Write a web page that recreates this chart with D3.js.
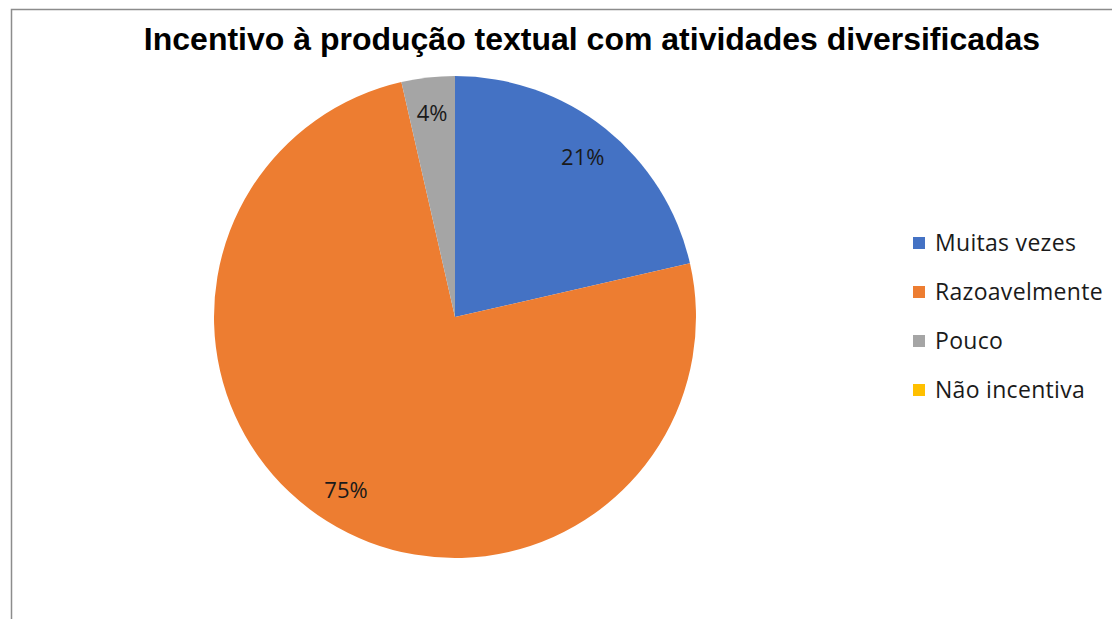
<!DOCTYPE html>
<html>
<head>
<meta charset="utf-8">
<script src="https://cdn.jsdelivr.net/npm/d3@7"></script>
<style>
  body { margin: 0; background: #fff; }
</style>
</head>
<body>
<div id="chart"></div>
<script>
const categories = ["Muitas vezes", "Razoavelmente", "Pouco", "Não incentiva"]
const values = [6, 21, 1, 0]
const colors = ["#4472C4", "#ED7D31", "#A5A5A5", "#FFC000"]
const title = "Incentivo à produção textual com atividades diversificadas"

const WIDTH = 1112, HEIGHT = 619
const CX = 455, CY = 317, R = 241

const svg = d3.select("#chart").append("svg")
    .attr("width", WIDTH)
    .attr("height", HEIGHT)

// chart frame (only top and left edges visible)
svg.append("rect")
    .attr("x", 11.5).attr("y", 9.5)
    .attr("width", WIDTH + 20).attr("height", HEIGHT + 20)
    .attr("fill", "#fff")
    .attr("stroke", "#8c8c8c")
    .attr("stroke-width", 1.5)

svg.append("text")
    .attr("x", 592).attr("y", 50)
    .attr("text-anchor", "middle")
    .attr("font-family", "Liberation Sans, Arial, sans-serif")
    .attr("font-weight", "bold")
    .attr("font-size", 32)
    .attr("fill", "#000")
    .text(title)

const data = categories.map((c, i) => ({ name: c, value: values[i], color: colors[i] }))
const total = d3.sum(values)

const pie = d3.pie().value(d => d.value).sort(null)
const arc = d3.arc().innerRadius(0).outerRadius(R)
const labelArc = d3.arc().innerRadius(R * 0.85).outerRadius(R * 0.85)

const g = svg.append("g").attr("transform", `translate(${CX},${CY})`)
const arcs = pie(data)

g.selectAll("path")
    .data(arcs)
    .enter().append("path")
    .attr("d", arc)
    .attr("fill", d => d.data.color)

g.selectAll("text")
    .data(arcs.filter(d => d.data.value > 0))
    .enter().append("text")
    .attr("transform", d => `translate(${labelArc.centroid(d)})`)
    .attr("text-anchor", "middle")
    .attr("dy", "0.35em")
    .attr("font-family", "Open Sans, sans-serif")
    .attr("font-size", 22)
    .attr("fill", "#1a1a1a")
    .text(d => Math.round(d.data.value / total * 100) + "%")

// legend
const legend = svg.append("g").attr("transform", "translate(913,243)")
const rows = legend.selectAll("g")
    .data(data)
    .enter().append("g")
    .attr("transform", (d, i) => `translate(0,${i * 49})`)

rows.append("rect")
    .attr("x", 0).attr("y", -6)
    .attr("width", 12).attr("height", 12)
    .attr("fill", d => d.color)

rows.append("text")
    .attr("x", 22).attr("y", 0)
    .attr("dy", "0.35em")
    .attr("font-family", "Open Sans, sans-serif")
    .attr("font-size", 23)
    .attr("letter-spacing", 0.3)
    .attr("fill", "#1a1a1a")
    .text(d => d.name)
</script>
</body>
</html>
